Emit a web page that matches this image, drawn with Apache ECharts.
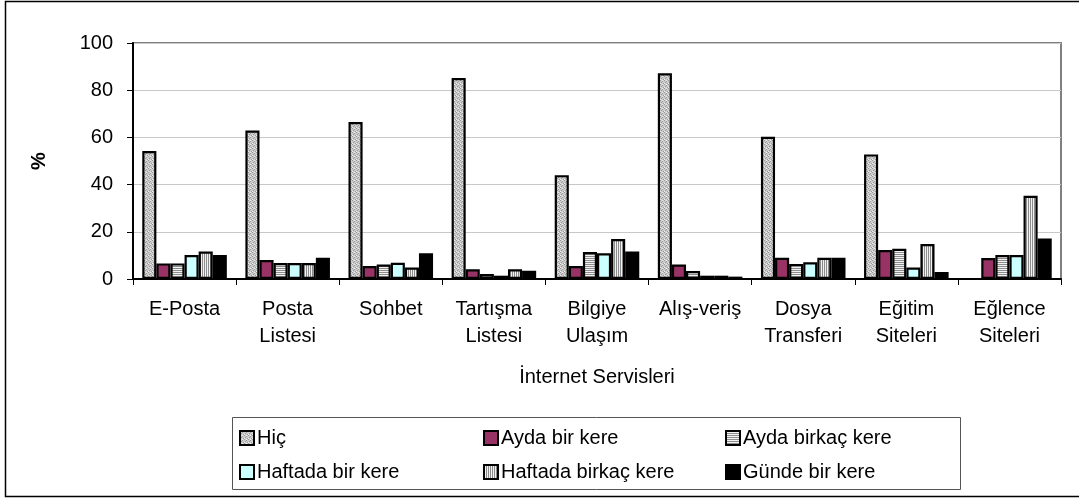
<!DOCTYPE html>
<html>
<head>
<meta charset="utf-8">
<script src="https://cdn.jsdelivr.net/npm/echarts@6/dist/echarts.min.js"></script>
<style>
html,body{margin:0;padding:0;background:#fff;}
#c{width:1079px;height:500px;}
</style>
</head>
<body>
<div id="c"></div>
<script>
const categories = ['E-Posta', 'Posta\nListesi', 'Sohbet', 'Tartışma\nListesi', 'Bilgiye\nUlaşım', 'Alış-veriş', 'Dosya\nTransferi', 'Eğitim\nSiteleri', 'Eğlence\nSiteleri'];
const seriesNames = ['Hiç', 'Ayda bir kere', 'Ayda birkaç kere', 'Haftada bir kere', 'Haftada birkaç kere', 'Günde bir kere'];
const hic            = [54.2, 62.9, 66.5, 85.2, 44.0, 87.2, 60.3, 52.8, 0];
const aydaBir        = [6.6, 8.0, 5.5, 4.1, 5.5, 6.1, 9.0, 12.3, 8.9];
const aydaBirkac     = [6.6, 6.8, 6.1, 2.1, 11.4, 3.4, 6.4, 12.8, 10.2];
const haftadaBir     = [10.2, 6.8, 6.9, 1.4, 10.9, 1.4, 7.1, 4.9, 10.2];
const haftadaBirkac  = [11.6, 6.8, 4.9, 4.1, 16.9, 1.4, 9.0, 14.8, 35.3];
const gundeBir       = [10.2, 9.0, 10.9, 3.5, 11.7, 1.0, 9.0, 3.0, 17.2];
const yTicks = [0, 20, 40, 60, 80, 100];

function makePattern(kind) {
  const cv = document.createElement('canvas');
  cv.width = 4; cv.height = 4;
  const g = cv.getContext('2d');
  if (kind === 'dots') {
    g.fillStyle = '#cccccc'; g.fillRect(0,0,4,4);
    g.fillStyle = '#999999';
    g.fillRect(0,0,1,1); g.fillRect(2,1,1,1); g.fillRect(1,2,1,1); g.fillRect(3,3,1,1);
    g.fillStyle = '#eeeeee';
    g.fillRect(2,0,1,1); g.fillRect(0,3,1,1);
  } else if (kind === 'h') {
    g.fillStyle = '#f2f2f2'; g.fillRect(0,0,4,4);
    g.fillStyle = '#8c8c8c'; g.fillRect(0,0,4,1); g.fillRect(0,2,4,1);
  } else if (kind === 'v') {
    g.fillStyle = '#f2f2f2'; g.fillRect(0,0,4,4);
    g.fillStyle = '#8c8c8c'; g.fillRect(0,0,1,4); g.fillRect(2,0,1,4);
  }
  return {image: cv, repeat: 'repeat'};
}

const fills = [makePattern('dots'), '#993366', makePattern('h'), '#CCFFFF', makePattern('v'), '#000000'];
const values = [hic, aydaBir, aydaBirkac, haftadaBir, haftadaBirkac, gundeBir];

const chart = echarts.init(document.getElementById('c'), null, {renderer: 'canvas'});
const font = 'Liberation Sans, Arial, sans-serif';

const series = seriesNames.map((n, i) => ({
  name: n,
  type: 'bar',
  data: values[i],
  barGap: '0%',
  barCategoryGap: '18%',
  itemStyle: {color: fills[i], borderColor: '#000', borderWidth: 2.2},
  emphasis: {disabled: true}
}));

function legendCol(left, items) {
  return {
    left: left, top: 428, orient: 'vertical',
    data: items, itemWidth: 14, itemHeight: 14, itemGap: 14,
    icon: 'rect', selectedMode: false,
    textStyle: {fontSize: 20, fontFamily: font, color: '#000', padding: [0,0,0,-2]},
    padding: 0
  };
}

chart.setOption({
  animation: false,
  textStyle: {fontFamily: font},
  grid: {left: 133, right: 18, top: 43, bottom: 221, show: true, borderColor: '#808080', borderWidth: 2},
  legend: [
    legendCol(239, [seriesNames[0], seriesNames[3]]),
    legendCol(483, [seriesNames[1], seriesNames[4]]),
    legendCol(725, [seriesNames[2], seriesNames[5]])
  ],
  graphic: [
    {type: 'rect', shape: {x: 5.5, y: 1.5, width: 1090, height: 495}, style: {fill: 'none', stroke: '#000', lineWidth: 1.5}, silent: true, z: -1},
    {type: 'rect', shape: {x: 232.5, y: 417.5, width: 728, height: 72}, style: {fill: 'none', stroke: '#555', lineWidth: 1}, silent: true, z: -1}
  ],
  xAxis: {
    type: 'category', data: categories,
    name: 'İnternet Servisleri', nameLocation: 'middle', nameGap: 88,
    nameTextStyle: {fontSize: 20, color: '#000', fontFamily: font},
    axisLine: {lineStyle: {color: '#000', width: 2}},
    axisTick: {show: true, length: 6, lineStyle: {color: '#000', width: 1}},
    axisLabel: {fontSize: 20, color: '#000', lineHeight: 27, margin: 17, fontFamily: font, interval: 0},
    splitLine: {show: false}
  },
  yAxis: {
    type: 'value', min: 0, max: 100, interval: 20,
    name: '%', nameLocation: 'middle', nameGap: 84,
    nameTextStyle: {fontSize: 20, fontWeight: 'bold', color: '#000', fontFamily: font},
    axisLine: {show: true, lineStyle: {color: '#000', width: 2}},
    axisTick: {show: true, length: 6, lineStyle: {color: '#000', width: 1}},
    axisLabel: {fontSize: 20, color: '#000', margin: 20, fontFamily: font,
      formatter: v => yTicks.includes(v) ? String(v) : ''},
    splitLine: {lineStyle: {color: '#c8c8c8', width: 1}}
  },
  series: series
});
</script>
</body>
</html>
